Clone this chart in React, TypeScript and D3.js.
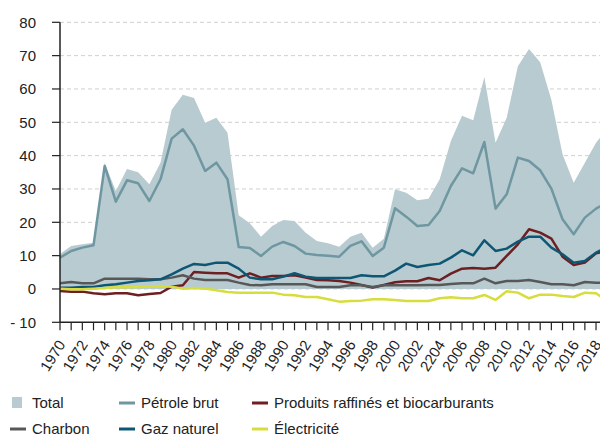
import React from 'react';
import * as d3 from 'd3';

const years = [1970, 1971, 1972, 1973, 1974, 1975, 1976, 1977, 1978, 1979,
  1980, 1981, 1982, 1983, 1984, 1985, 1986, 1987, 1988, 1989,
  1990, 1991, 1992, 1993, 1994, 1995, 1996, 1997, 1998, 1999,
  2000, 2001, 2002, 2003, 2004, 2005, 2006, 2007, 2008, 2009,
  2010, 2011, 2012, 2013, 2014, 2015, 2016, 2017, 2018, 2019];

const total = [10.5, 12.9, 13.4, 13.9, 37.9, 29.4, 36, 35, 31.4, 37.9,
  53.8, 58.3, 57.3, 49.9, 51.4, 46.9, 22.1, 19.7, 15.7, 18.9,
  20.7, 20.4, 16.9, 14.4, 13.7, 12.7, 15.7, 16.9, 12.4, 15.1,
  29.9, 28.9, 26.6, 27.1, 32.9, 44.4, 52, 50.6, 63.6, 43.9,
  51.4, 66.8, 72, 68, 56.8, 40.4, 31.9, 37.9, 43.9, 48];
const petrole = [9.4, 11.4, 12.4, 13.1, 36.9, 26.2, 32.6, 31.7, 26.4, 32.9,
  45.1, 47.9, 43, 35.4, 37.9, 32.9, 12.6, 12.3, 9.9, 12.7,
  14.1, 12.9, 10.6, 10.2, 10, 9.7, 12.9, 14.3, 9.9, 12.4,
  24.2, 21.7, 18.9, 19.2, 23.4, 30.9, 36.2, 34.7, 44.1, 24.1,
  28.4, 39.4, 38.4, 35.6, 30.1, 20.9, 16.4, 21.4, 24.1, 26];
const produits = [-0.6, -0.8, -0.8, -1.3, -1.6, -1.3, -1.3, -1.9, -1.5, -1.2,
  0.7, 1.1, 5.1, 4.9, 4.7, 4.7, 3.4, 4.7, 3.4, 3.9,
  3.9, 4.1, 3.4, 2.7, 2.6, 2.4, 1.9, 1.2, 0.4, 1.2,
  2.0, 2.3, 2.3, 3.3, 2.6, 4.6, 6.1, 6.3, 6.1, 6.4,
  9.9, 13.4, 17.9, 16.9, 15.1, 9.7, 7.2, 7.9, 10.7, 11.5];
const charbon = [1.7, 2.1, 1.7, 1.7, 3.1, 3.1, 3.1, 3.1, 2.9, 2.9,
  3.4, 4.1, 3.1, 2.7, 2.7, 2.7, 1.9, 1.2, 1.1, 1.4,
  1.4, 1.4, 1.4, 0.6, 0.6, 0.6, 1.1, 1.1, 0.6, 1.1,
  1.1, 1.1, 1.1, 1.2, 1.2, 1.5, 1.7, 1.7, 3.1, 1.7,
  2.4, 2.4, 2.7, 2.1, 1.4, 1.4, 1.1, 2.1, 1.9, 1.9];
const gaz = [0.4, 0.4, 0.6, 0.6, 1.1, 1.4, 1.9, 2.4, 2.6, 2.9,
  4.4, 6.1, 7.5, 7.2, 7.9, 7.9, 6.1, 3.4, 2.9, 2.9,
  3.7, 4.7, 3.7, 3.3, 3.3, 3.3, 3.3, 4.1, 3.8, 3.8,
  5.5, 7.6, 6.6, 7.2, 7.6, 9.4, 11.6, 10.1, 14.6, 11.4,
  12.1, 14.2, 15.7, 15.7, 12.4, 10.4, 7.9, 8.4, 10.9, 12.5];
const electricite = [0.1, -0.1, -0.1, 0.1, 0.3, 0.5, 0.5, 0.6, 0.7, 0.9,
  0.7, 0.1, 0.3, 0.1, -0.4, -0.9, -1.1, -1.1, -1.1, -1.1,
  -1.7, -1.9, -2.4, -2.4, -3.1, -3.8, -3.6, -3.5, -3.1, -3.1,
  -3.3, -3.6, -3.6, -3.6, -2.8, -2.5, -2.8, -2.8, -1.8, -3.3,
  -0.7, -1.1, -2.8, -1.7, -1.7, -2.1, -2.4, -1.1, -1.3, -3.5];

const yTicks = [-10, 0, 10, 20, 30, 40, 50, 60, 70, 80];
const yTickLabels = ['- 10', '0', '10', '20', '30', '40', '50', '60', '70', '80'];
const xLabelYears = [1970, 1972, 1974, 1976, 1978, 1980, 1982, 1984, 1986, 1988,
  1990, 1992, 1994, 1996, 1998, 2000, 2002, 2004, 2006, 2008,
  2010, 2012, 2014, 2016, 2018];
const xLabels = ['1970', '1972', '1974', '1976', '1978', '1980', '1982', '1984', '1986', '1988',
  '1990', '1992', '1994', '1996', '1998', '2000', '2002', '2204', '2006', '2008',
  '2010', '2012', '2014', '2016', '2018'];

const series = [
  { name: 'Pétrole brut', values: petrole, color: '#6f97a2' },
  { name: 'Produits raffinés et biocarburants', values: produits, color: '#6e1f22' },
  { name: 'Charbon', values: charbon, color: '#585858' },
  { name: 'Gaz naturel', values: gaz, color: '#0d5674' },
  { name: 'Électricité', values: electricite, color: '#d6dd3c' },
];
const areaColor = '#b8cbd0';

const W = 600, H = 435;
const font = '"Liberation Sans", Arial, Helvetica, sans-serif';

export default function App() {
  // chart runs past the right edge of the picture, so the scale goes beyond W
  const x = d3.scaleLinear().domain([1970, 2019]).range([60, 607.2]);
  const y = d3.scaleLinear().domain([-10, 80]).range([322.3, 22.3]);

  const area = d3.area<number>()
    .x((d, i) => x(years[i]))
    .y0(y(0))
    .y1(d => y(d));
  const line = d3.line<number>()
    .x((d, i) => x(years[i]))
    .y(d => y(d));

  const legend = [
    { name: 'Total', kind: 'box', color: areaColor, lx: 12, ly: 403 },
    { name: series[0].name, kind: 'line', color: series[0].color, lx: 119, ly: 403 },
    { name: series[1].name, kind: 'line', color: series[1].color, lx: 252, ly: 403 },
    { name: series[2].name, kind: 'line', color: series[2].color, lx: 10, ly: 429 },
    { name: series[3].name, kind: 'line', color: series[3].color, lx: 119, ly: 429 },
    { name: series[4].name, kind: 'line', color: series[4].color, lx: 252, ly: 429 },
  ];

  return (
    <svg width={W} height={H} style={{ position: 'absolute', left: 0, top: 0, fontFamily: font }}>
      {/* grid */}
      {yTicks.filter(t => t > -10).map(t => (
        <line key={t} x1={60} x2={W} y1={y(t)} y2={y(t)} stroke="#cfcfcf" strokeWidth={1} strokeDasharray="4,3" />
      ))}
      <path d={area(total) || ''} fill={areaColor} />
      {series.map(s => (
        <path key={s.name} d={line(s.values) || ''} fill="none" stroke={s.color} strokeWidth={2.5} strokeLinejoin="round" />
      ))}
      {/* y axis */}
      <line x1={60} x2={60} y1={y(80)} y2={y(-10)} stroke="#222" strokeWidth={1.5} />
      {yTicks.map((t, i) => (
        <g key={t}>
          <line x1={52} x2={60} y1={y(t)} y2={y(t)} stroke="#222" strokeWidth={1.2} />
          <text x={36} y={y(t)} dy="0.36em" textAnchor="end" fontSize={15} fill="#222">{yTickLabels[i]}</text>
        </g>
      ))}
      {/* x axis */}
      <line x1={60} x2={W} y1={y(-10)} y2={y(-10)} stroke="#222" strokeWidth={1.5} />
      {years.map(yr => (
        <line key={yr} x1={x(yr)} x2={x(yr)} y1={y(-10)} y2={y(-10) + 8} stroke="#222" strokeWidth={1.2} />
      ))}
      {xLabelYears.map((yr, i) => (
        <text key={yr} transform={`translate(${x(yr) + 6},${y(-10) + 22}) rotate(-58)`}
          textAnchor="end" fontSize={15} fill="#222">{xLabels[i]}</text>
      ))}
      {/* legend */}
      {legend.map(l => (
        <g key={l.name}>
          {l.kind === 'box'
            ? <rect x={l.lx} y={l.ly - 6} width={10} height={11} fill={l.color} />
            : <line x1={l.lx} x2={l.lx + 16} y1={l.ly} y2={l.ly} stroke={l.color} strokeWidth={3} />}
          <text x={l.lx + (l.kind === 'box' ? 20 : 22)} y={l.ly} dy="0.35em" fontSize={15} fill="#222">{l.name}</text>
        </g>
      ))}
    </svg>
  );
}
